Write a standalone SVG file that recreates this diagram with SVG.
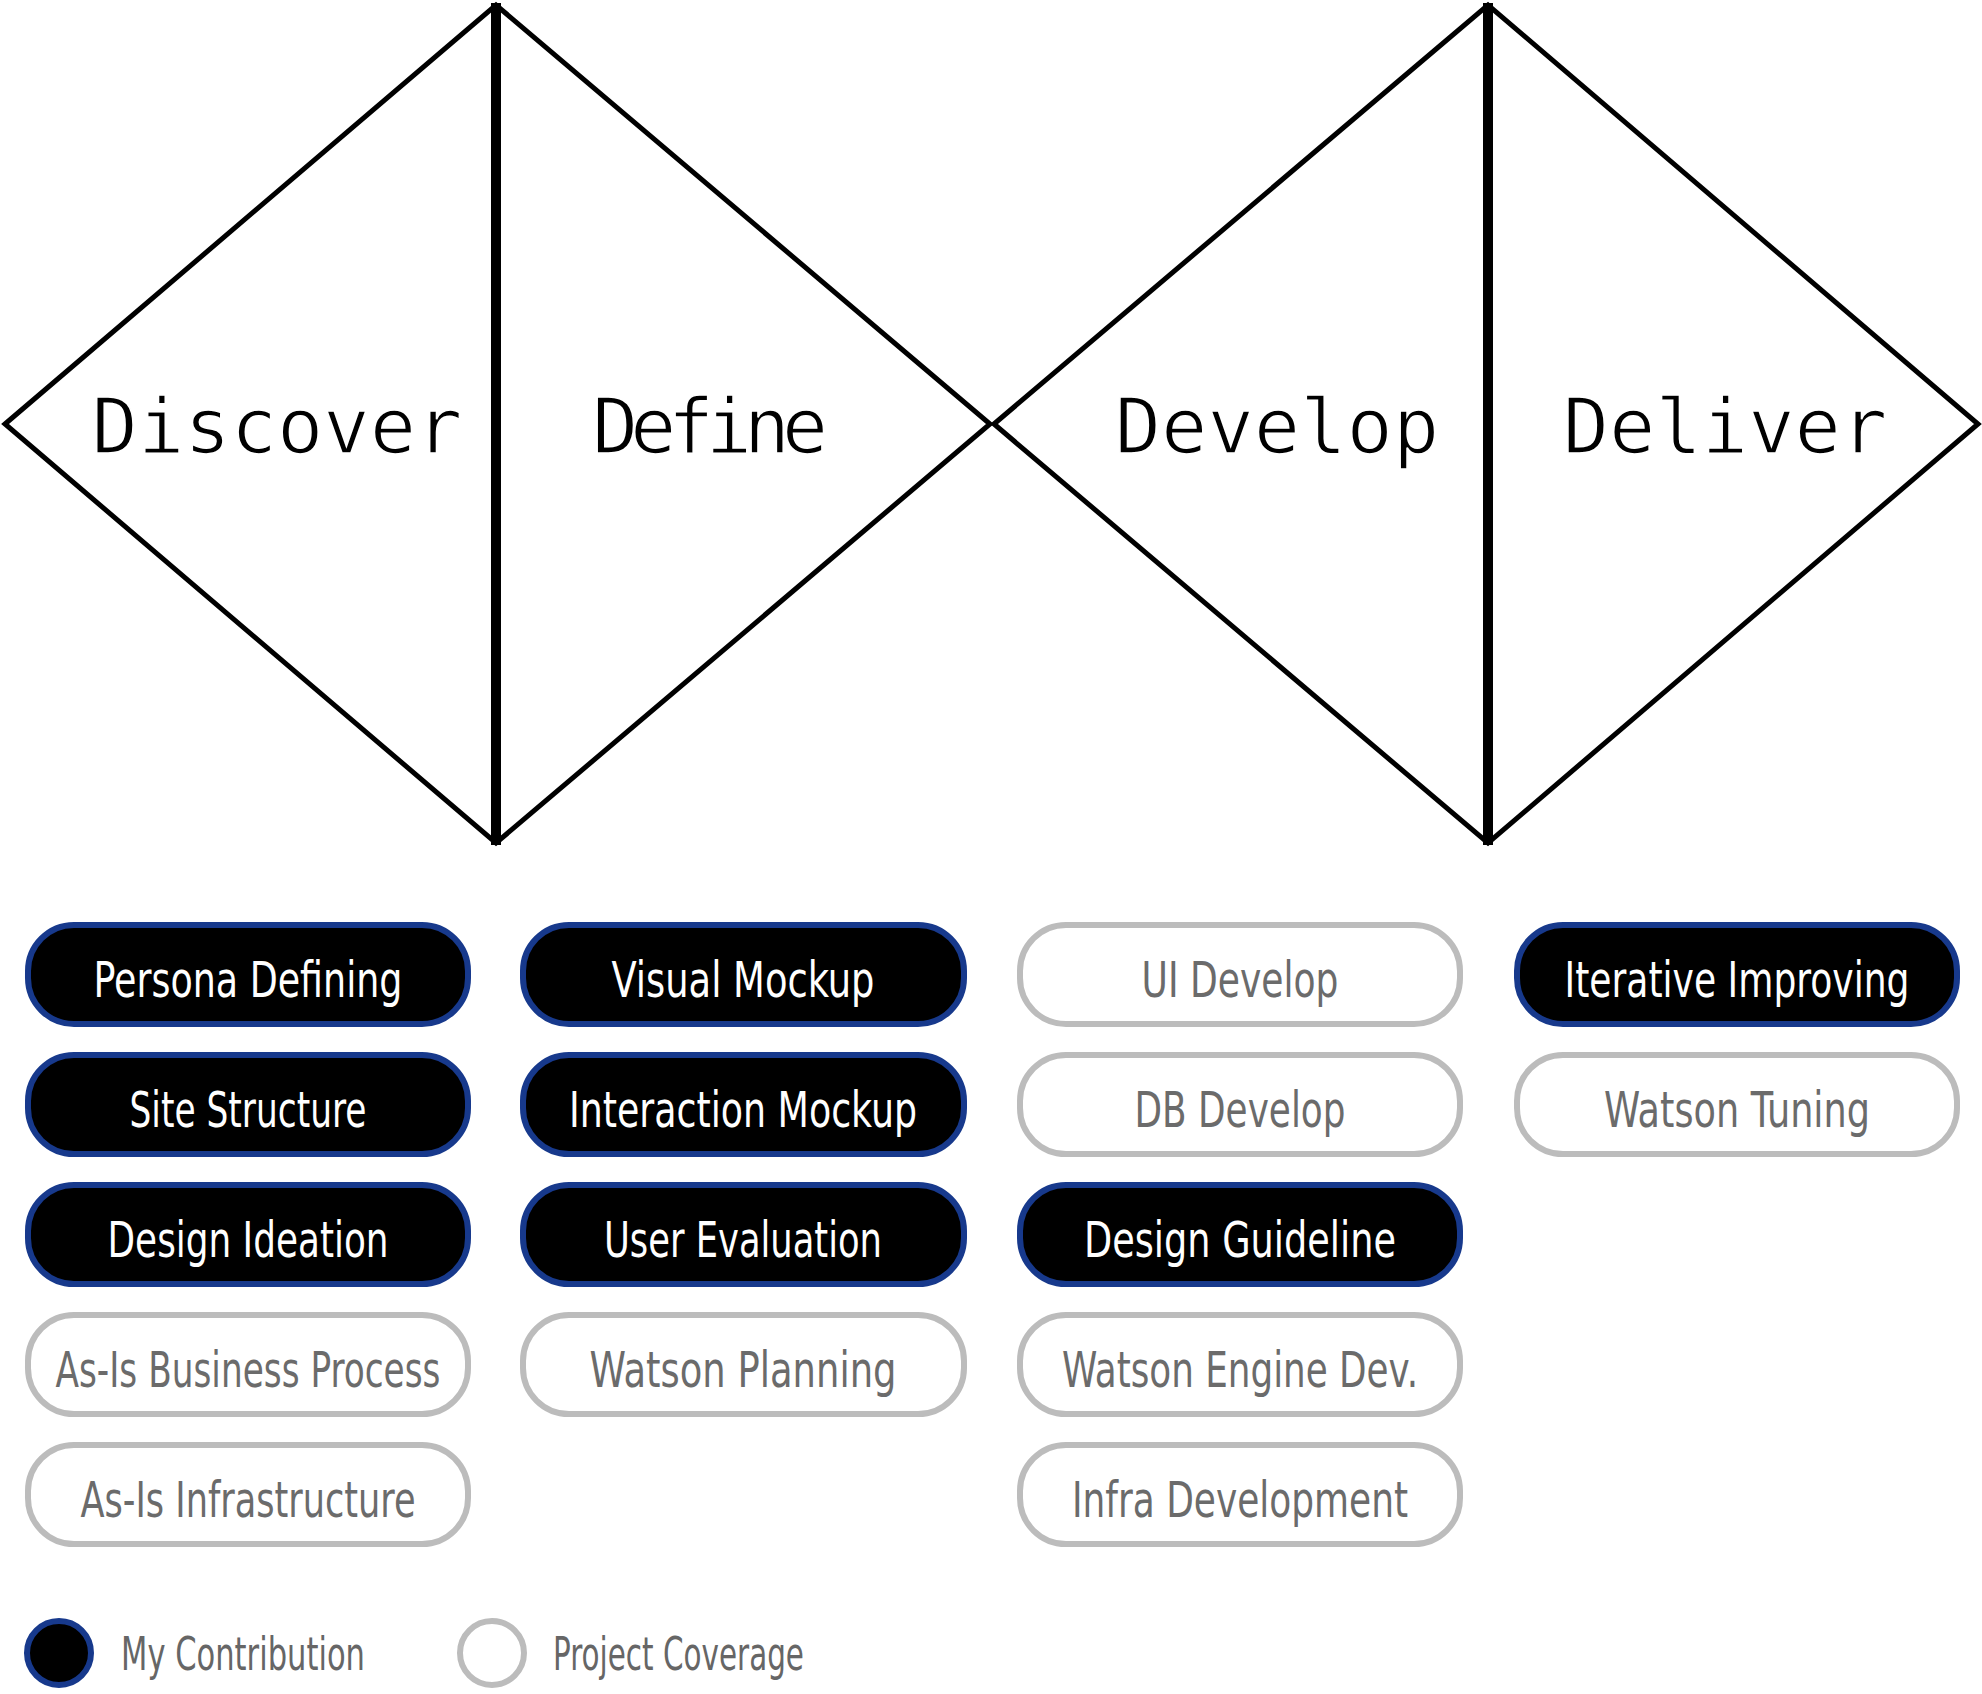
<svg xmlns="http://www.w3.org/2000/svg" width="1982" height="1694" viewBox="0 0 1982 1694">
<style>
.dia{fill:none;stroke:#000;stroke-width:5;stroke-linejoin:miter}
.axis{stroke:#000;stroke-width:10}
.phase{font-family:'DejaVu Sans Mono','Liberation Mono',monospace;font-size:77px;fill:#000;text-anchor:middle;stroke:#fff;stroke-width:1.6px}
.on rect{fill:#000;stroke:#17398c;stroke-width:6}
.off rect{fill:#fff;stroke:#bcbcbc;stroke-width:6}
.lbl{font-family:'Liberation Sans Narrow','DejaVu Sans Condensed','Open Sans',sans-serif;font-size:50px;text-anchor:middle}
.on text{fill:#fff}
.off text{fill:#6b6b6b}
.leg{font-family:'Liberation Sans Narrow','DejaVu Sans Condensed','Open Sans',sans-serif;font-size:46px;fill:#666}
</style>
<rect width="1982" height="1694" fill="#fff"/>
<g id="diamond-1">
<polygon class="dia" points="5,424 496,5 990,424 496,843"/>
<line class="axis" x1="496" y1="3" x2="496" y2="845"/>
</g>
<g id="diamond-2">
<polygon class="dia" points="994,424 1488,5 1978,424 1488,843"/>
<line class="axis" x1="1488" y1="3" x2="1488" y2="845"/>
</g>
<g id="phase-discover"><text class="phase" x="277" y="453">Discover</text></g>
<g id="phase-define"><text class="phase" x="710" y="453" textLength="236" lengthAdjust="spacing">Define</text></g>
<g id="phase-develop"><text class="phase" x="1277" y="453">Develop</text></g>
<g id="phase-deliver"><text class="phase" x="1725" y="453">Deliver</text></g>

<g id="persona-defining" class="on"><rect x="28" y="925" width="440" height="99" rx="46"/><text class="lbl" x="248" y="997" textLength="309" lengthAdjust="spacingAndGlyphs">Persona Defining</text></g>
<g id="site-structure" class="on"><rect x="28" y="1055" width="440" height="99" rx="46"/><text class="lbl" x="248" y="1127" textLength="237" lengthAdjust="spacingAndGlyphs">Site Structure</text></g>
<g id="design-ideation" class="on"><rect x="28" y="1185" width="440" height="99" rx="46"/><text class="lbl" x="248" y="1257" textLength="281" lengthAdjust="spacingAndGlyphs">Design Ideation</text></g>
<g id="as-is-business-process" class="off"><rect x="28" y="1315" width="440" height="99" rx="46"/><text class="lbl" x="248" y="1387" textLength="385" lengthAdjust="spacingAndGlyphs">As-Is Business Process</text></g>
<g id="as-is-infrastructure" class="off"><rect x="28" y="1445" width="440" height="99" rx="46"/><text class="lbl" x="248" y="1517" textLength="335" lengthAdjust="spacingAndGlyphs">As-Is Infrastructure</text></g>

<g id="visual-mockup" class="on"><rect x="523" y="925" width="441" height="99" rx="46"/><text class="lbl" x="743" y="997" textLength="263" lengthAdjust="spacingAndGlyphs">Visual Mockup</text></g>
<g id="interaction-mockup" class="on"><rect x="523" y="1055" width="441" height="99" rx="46"/><text class="lbl" x="743" y="1127" textLength="348" lengthAdjust="spacingAndGlyphs">Interaction Mockup</text></g>
<g id="user-evaluation" class="on"><rect x="523" y="1185" width="441" height="99" rx="46"/><text class="lbl" x="743" y="1257" textLength="278" lengthAdjust="spacingAndGlyphs">User Evaluation</text></g>
<g id="watson-planning" class="off"><rect x="523" y="1315" width="441" height="99" rx="46"/><text class="lbl" x="743" y="1387" textLength="307" lengthAdjust="spacingAndGlyphs">Watson Planning</text></g>

<g id="ui-develop" class="off"><rect x="1020" y="925" width="440" height="99" rx="46"/><text class="lbl" x="1240" y="997" textLength="197" lengthAdjust="spacingAndGlyphs">UI Develop</text></g>
<g id="db-develop" class="off"><rect x="1020" y="1055" width="440" height="99" rx="46"/><text class="lbl" x="1240" y="1127" textLength="211" lengthAdjust="spacingAndGlyphs">DB Develop</text></g>
<g id="design-guideline" class="on"><rect x="1020" y="1185" width="440" height="99" rx="46"/><text class="lbl" x="1240" y="1257" textLength="312" lengthAdjust="spacingAndGlyphs">Design Guideline</text></g>
<g id="watson-engine-dev" class="off"><rect x="1020" y="1315" width="440" height="99" rx="46"/><text class="lbl" x="1240" y="1387" textLength="356" lengthAdjust="spacingAndGlyphs">Watson Engine Dev.</text></g>
<g id="infra-development" class="off"><rect x="1020" y="1445" width="440" height="99" rx="46"/><text class="lbl" x="1240" y="1517" textLength="336" lengthAdjust="spacingAndGlyphs">Infra Development</text></g>

<g id="iterative-improving" class="on"><rect x="1517" y="925" width="440" height="99" rx="46"/><text class="lbl" x="1737" y="997" textLength="345" lengthAdjust="spacingAndGlyphs">Iterative Improving</text></g>
<g id="watson-tuning" class="off"><rect x="1517" y="1055" width="440" height="99" rx="46"/><text class="lbl" x="1737" y="1127" textLength="266" lengthAdjust="spacingAndGlyphs">Watson Tuning</text></g>

<g id="connectors"></g>

<g id="legend">
<circle cx="59" cy="1653" r="32" fill="#000" stroke="#17398c" stroke-width="6"/>
<text class="leg" x="121" y="1670" textLength="244" lengthAdjust="spacingAndGlyphs">My Contribution</text>
<circle cx="492" cy="1653" r="32" fill="#fff" stroke="#bcbcbc" stroke-width="6"/>
<text class="leg" x="553" y="1670" textLength="251" lengthAdjust="spacingAndGlyphs">Project Coverage</text>
</g>
</svg>
